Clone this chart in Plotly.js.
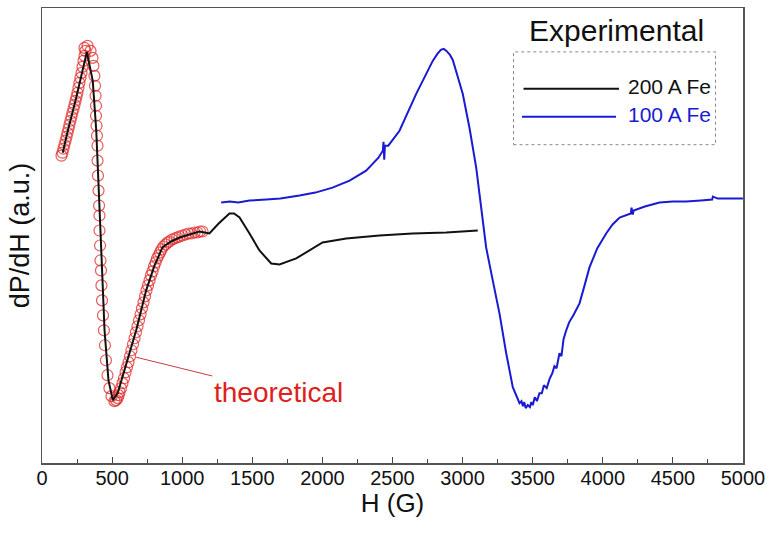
<!DOCTYPE html>
<html>
<head>
<meta charset="utf-8">
<script src="https://cdn.plot.ly/plotly-3.0.1.min.js"></script>
<style>html,body{margin:0;padding:0;background:#fff;}#chart{width:769px;height:533px;}</style>
</head>
<body>
<div id="chart"></div>
<script>
// ---- data (H in gauss, dP/dH in arbitrary units) ----
const fe200_H = [148, 184, 244, 320, 362, 387, 417, 446, 474, 505, 540, 601, 672, 743, 800, 859, 920, 981, 1050, 1123, 1160, 1194, 1260, 1337, 1370, 1409, 1480, 1551, 1635, 1694, 1813, 1929, 2001, 2170, 2407, 2643, 2883, 3108];
const fe200_Y = [311, 333, 366, 412, 383, 333, 233, 133, 83, 63, 70, 100, 133, 173, 197, 216, 222, 226, 229, 232, 231, 230, 240, 250, 250, 246, 230, 213, 200, 199, 205, 215, 221, 225, 228, 230, 231, 233];

const fe100_H = [1278, 1340, 1400, 1480, 1600, 1700, 1837, 1950, 2072, 2194, 2312, 2400, 2431, 2436, 2441, 2446, 2470, 2550, 2669, 2740, 2787, 2820, 2845, 2865, 2885, 2910, 2930, 3001, 3049, 3097, 3120, 3168, 3215, 3263, 3311, 3358, 3406, 3420, 3430, 3440, 3450, 3465, 3480, 3490, 3500, 3515, 3530, 3548, 3565, 3580, 3600, 3620, 3640, 3655, 3670, 3691, 3705, 3720, 3739, 3760, 3790, 3834, 3870, 3905, 3960, 4024, 4070, 4120, 4200, 4205, 4214, 4220, 4300, 4405, 4500, 4595, 4700, 4780, 4785, 4820, 4900, 4999];
const fe100_Y = [261, 262, 261, 263, 264, 265, 268, 271, 276, 283, 293, 306, 313, 322, 304, 318, 318, 333, 370, 390, 403, 410, 414, 415, 413, 409, 404, 370, 336, 296, 270, 216, 183, 150, 110, 76, 60, 62, 57, 61, 55, 58, 56, 61, 58, 66, 62, 70, 70, 78, 75, 84, 90, 97, 95, 110, 107, 124, 133, 141, 148, 160, 178, 196, 215, 230, 239, 246, 250, 256, 249, 253, 257, 261, 262, 262, 263, 264, 267, 265, 265, 265];

const theory_H = [139, 146, 153, 160, 168, 175, 182, 189, 196, 203, 210, 217, 225, 232, 239, 246, 253, 260, 267, 274, 282, 289, 296, 303, 310, 303, 325, 346, 360, 367, 374, 378, 382, 385, 385, 389, 392, 396, 396, 399, 403, 407, 410, 410, 414, 417, 421, 424, 428, 435, 442, 449, 456, 467, 481, 496, 517, 528, 539, 546, 553, 563, 574, 585, 596, 606, 617, 628, 638, 649, 660, 670, 681, 692, 703, 713, 724, 735, 745, 756, 767, 777, 788, 799, 810, 820, 831, 842, 852, 866, 881, 895, 909, 927, 945, 963, 981, 1002, 1024, 1045, 1066, 1088, 1109, 1127, 1145];
const theory_Y = [308, 311, 315, 319, 323, 327, 331, 335, 339, 343, 347, 351, 355, 359, 363, 367, 371, 376, 381, 386, 391, 397, 403, 408, 413, 416, 418, 413, 406, 398, 388, 378, 368, 358, 348, 338, 328, 318, 303, 288, 273, 258, 248, 233, 218, 203, 193, 178, 163, 148, 133, 118, 103, 88, 75, 67, 62, 63, 65, 68, 71, 75, 80, 85, 91, 96, 101, 107, 113, 119, 125, 131, 137, 143, 149, 155, 161, 167, 173, 178, 183, 188, 192, 197, 201, 205, 208, 211, 214, 217, 219, 221, 222, 224, 225, 226, 227, 228, 229, 230, 230, 231, 231, 232, 232];

const seriesNames = ["200 A Fe", "100 A Fe"];
const seriesColors = ["#111111", "#1a1ad2"];
const legendTitle = "Experimental";
const theoryLabel = "theoretical";
const xTitle = "H (G)";
const yTitle = "dP/dH (a.u.)";

const font = "Liberation Sans, Arial, sans-serif";

const traces = [
  {x: theory_H, y: theory_Y, mode: "markers", type: "scatter", name: theoryLabel,
   marker: {symbol: "circle-open", size: 11, color: "rgba(222,38,38,0.75)", line: {width: 1.2}}, showlegend: false},
  {x: fe200_H, y: fe200_Y, mode: "lines", type: "scatter", name: seriesNames[0],
   line: {color: seriesColors[0], width: 2}, showlegend: false},
  {x: fe100_H, y: fe100_Y, mode: "lines", type: "scatter", name: seriesNames[1],
   line: {color: seriesColors[1], width: 2}, showlegend: false}
];

const px = v => (v - 42) / 701;   // helper for decorative legend placement (paper coords)
const py = v => (463 - v) / 456;

const layout = {
  width: 769, height: 533,
  margin: {l: 42, r: 26, t: 8, b: 70},
  paper_bgcolor: "#fff", plot_bgcolor: "#fff",
  font: {family: font, color: "#111"},
  showlegend: false,
  xaxis: {
    range: [0, 5000], dtick: 500, tick0: 0,
    ticks: "inside", ticklen: 6, tickwidth: 1, tickcolor: "#444",
    minor: {dtick: 250, ticks: "inside", ticklen: 4, tickcolor: "#444"},
    showline: true, linecolor: "#555", linewidth: 1.5, mirror: true,
    showgrid: false, zeroline: false,
    ticklabelstandoff: -4,
    tickfont: {size: 20, color: "#111", family: font},
    title: {text: xTitle, font: {size: 26, color: "#111", family: font}, standoff: 6}
  },
  yaxis: {
    range: [0, 456],
    showticklabels: false, ticks: "",
    showline: true, linecolor: "#555", linewidth: 1.5, mirror: true,
    showgrid: false, zeroline: false,
    title: {text: yTitle, font: {size: 27, color: "#111", family: font}, standoff: 3},
    automargin: false
  },
  shapes: [
    {type: "rect", xref: "paper", yref: "paper", x0: px(513.5), x1: px(715.5), y0: py(144), y1: py(51),
     line: {color: "#888", width: 1, dash: "dot"}},
    {type: "line", xref: "paper", yref: "paper", x0: px(523.5), x1: px(619), y0: py(88), y1: py(88),
     line: {color: seriesColors[0], width: 2}},
    {type: "line", xref: "paper", yref: "paper", x0: px(522), x1: px(616), y0: py(116), y1: py(116),
     line: {color: seriesColors[1], width: 2}}
  ],
  annotations: [
    {xref: "paper", yref: "paper", x: px(616), y: py(30), text: legendTitle, showarrow: false,
     font: {size: 30, color: "#111", family: font}, xanchor: "center", yanchor: "middle"},
    {xref: "paper", yref: "paper", x: px(626), y: py(86), text: seriesNames[0], showarrow: false,
     font: {size: 21, color: seriesColors[0], family: font}, xanchor: "left", yanchor: "middle"},
    {xref: "paper", yref: "paper", x: px(626), y: py(114), text: seriesNames[1], showarrow: false,
     font: {size: 21, color: seriesColors[1], family: font}, xanchor: "left", yanchor: "middle"},
    {x: 672, y: 106, xref: "x", yref: "y", text: theoryLabel, showarrow: true, arrowhead: 0, arrowwidth: 1,
     arrowcolor: "#c84040", ax: 142, ay: 35, font: {size: 28, color: "#e02020", family: font}, standoff: 0}
  ]
};

Plotly.newPlot("chart", traces, layout, {displayModeBar: false, staticPlot: true});
</script>
</body>
</html>
